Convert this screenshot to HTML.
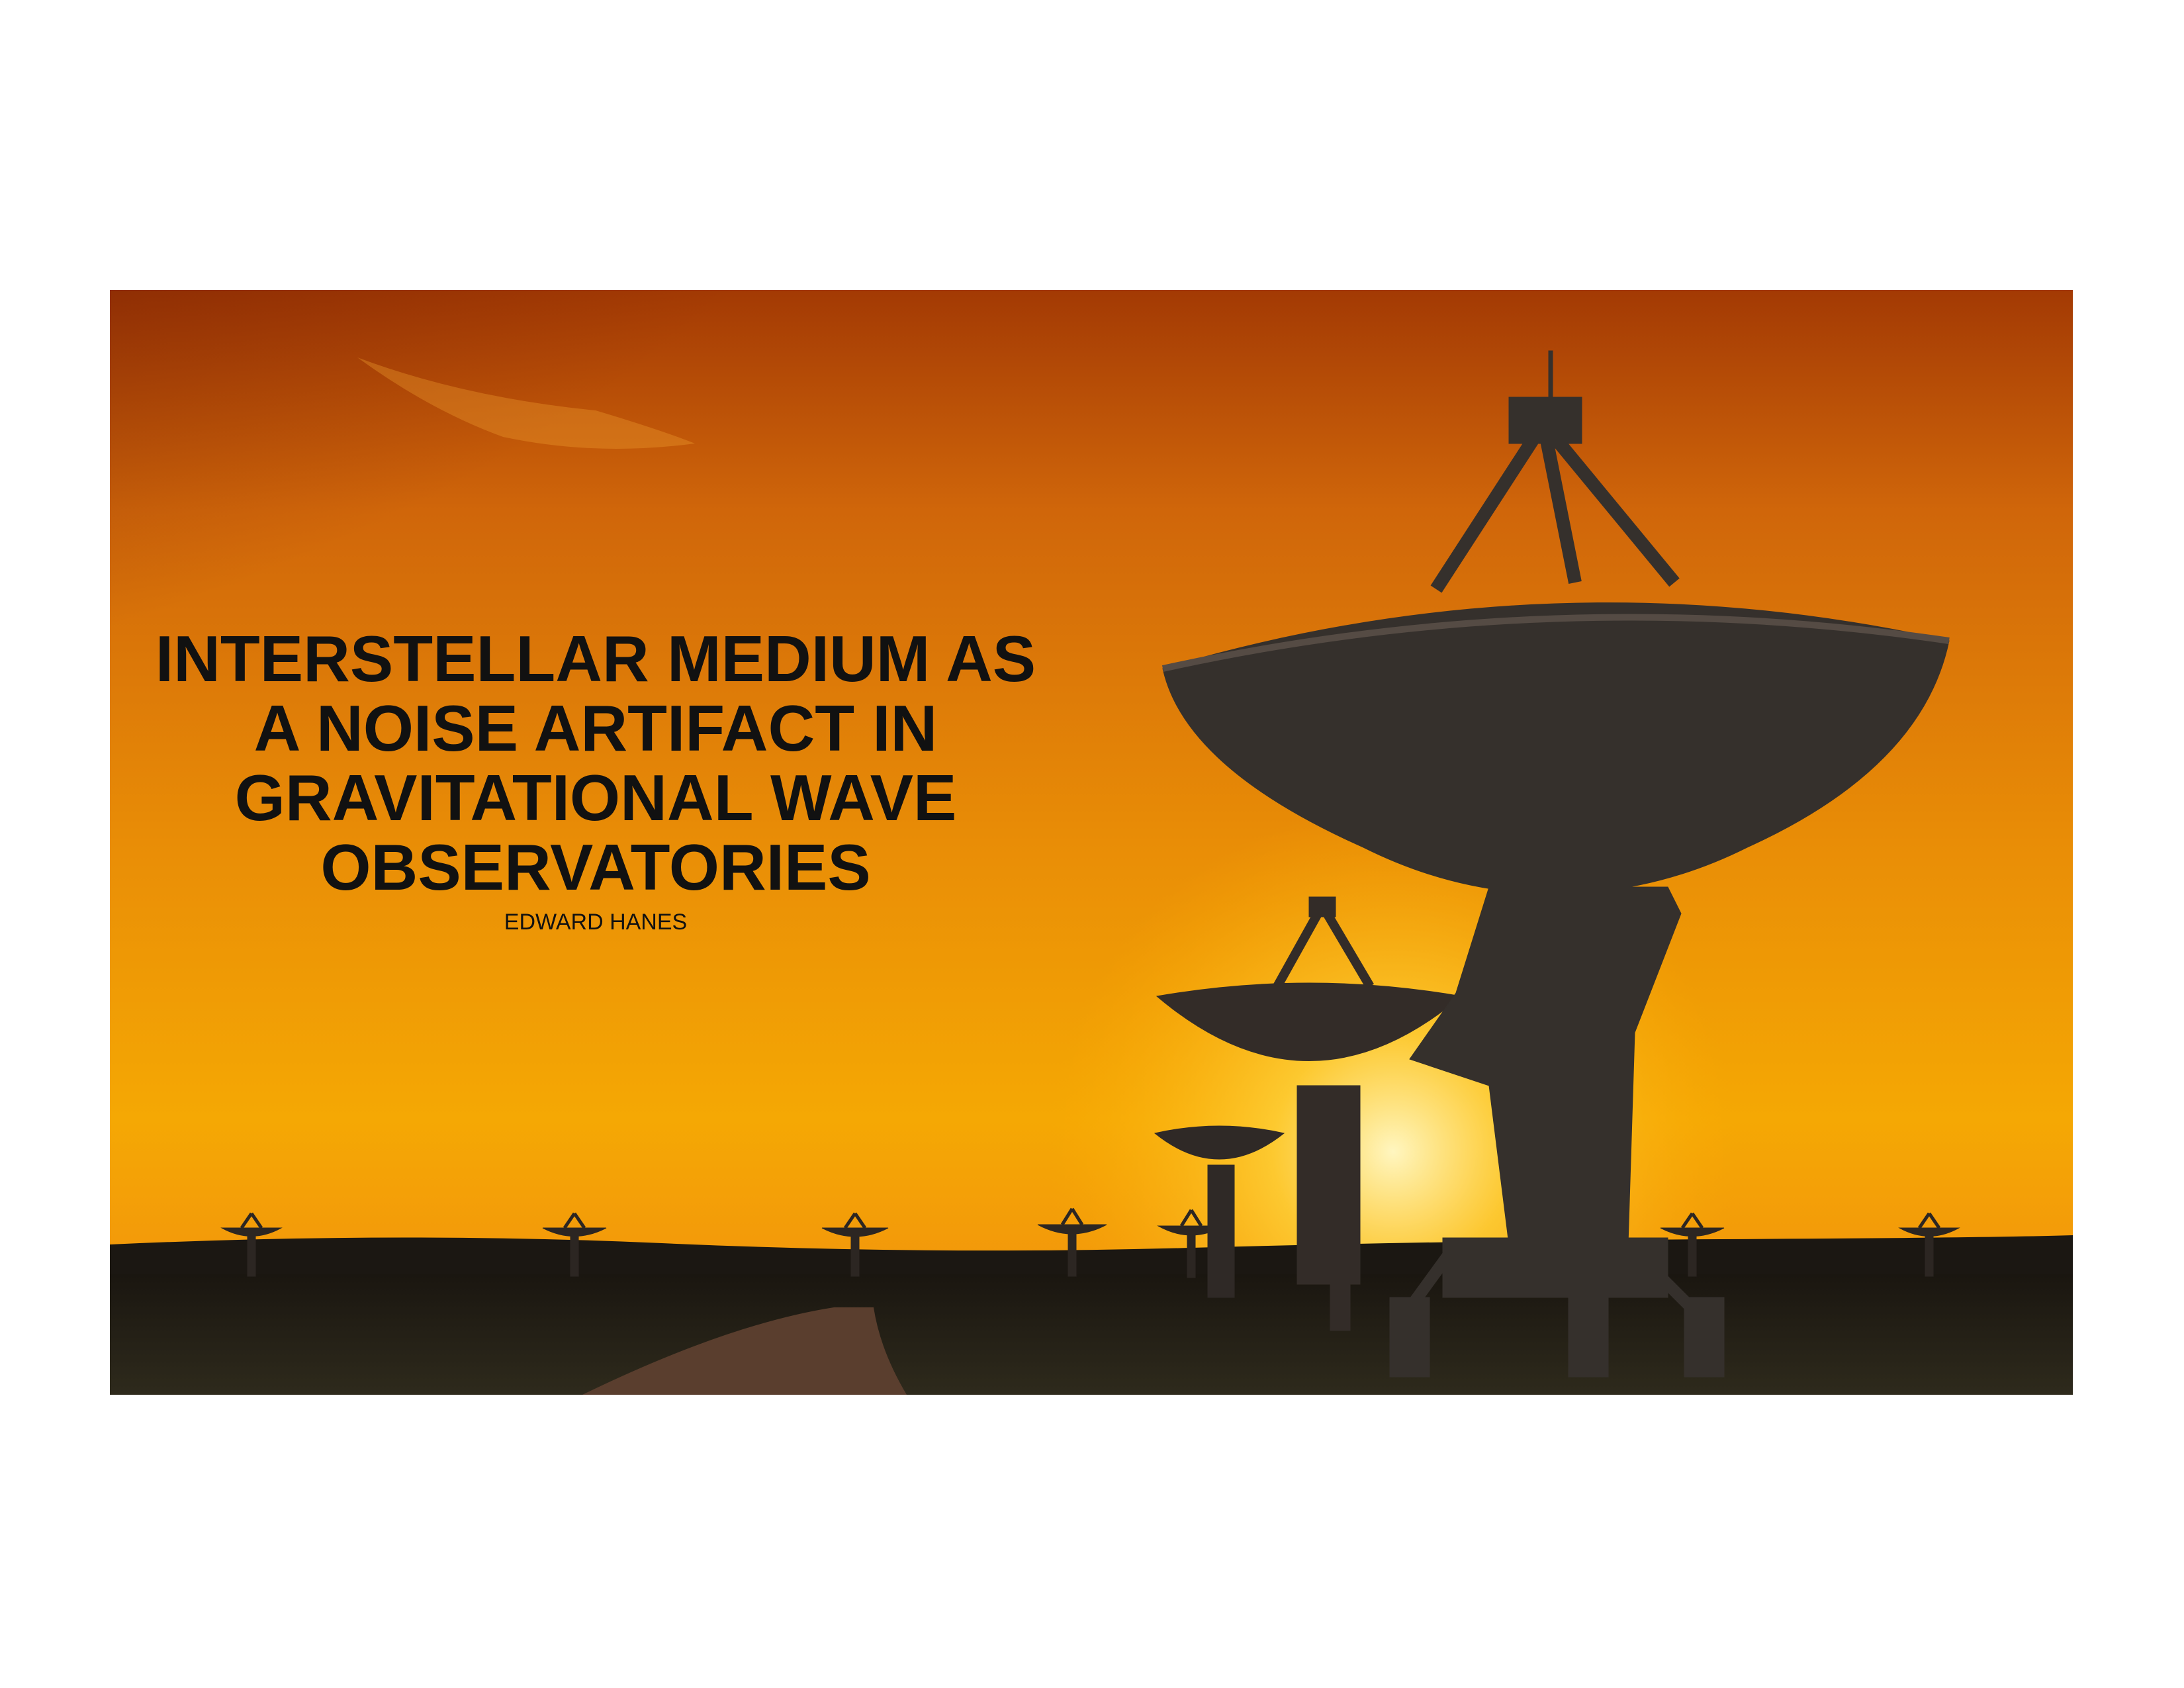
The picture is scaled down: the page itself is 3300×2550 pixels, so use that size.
<!DOCTYPE html>
<html><head><meta charset="utf-8">
<style>
html,body{margin:0;padding:0;background:#fff;}
body{width:3300px;height:2550px;position:relative;overflow:hidden;font-family:"Liberation Sans",sans-serif;}
svg{position:absolute;left:0;top:0;}
.title{position:absolute;left:160px;width:1480px;text-align:center;color:#111;font-weight:bold;font-size:98px;line-height:105px;top:943px;letter-spacing:0px;}
.author{position:absolute;left:160px;width:1480px;text-align:center;color:#111;font-size:34px;top:1374px;}
</style></head>
<body>
<svg width="3300" height="2550" viewBox="0 0 3300 2550">
<defs>
<linearGradient id="sky" x1="0" y1="0" x2="0" y2="1">
<stop offset="0" stop-color="#a33a04"/>
<stop offset="0.2" stop-color="#d0660a"/>
<stop offset="0.5" stop-color="#e98d06"/>
<stop offset="0.75" stop-color="#f5a804"/>
<stop offset="1" stop-color="#f08a10"/>
</linearGradient>
<radialGradient id="tl" cx="0" cy="0" r="1">
<stop offset="0" stop-color="#5a0e04" stop-opacity="0.9"/>
<stop offset="1" stop-color="#5a0e04" stop-opacity="0"/>
</radialGradient>
<radialGradient id="sun" cx="2105" cy="1740" r="520" gradientUnits="userSpaceOnUse">
<stop offset="0" stop-color="#fff6c0"/>
<stop offset="0.35" stop-color="#ffd23a" stop-opacity="0.8"/>
<stop offset="1" stop-color="#ffb000" stop-opacity="0"/>
</radialGradient>
<linearGradient id="ground" x1="0" y1="0" x2="0" y2="1">
<stop offset="0" stop-color="#1a1610"/>
<stop offset="1" stop-color="#2e2a1c"/>
</linearGradient>
<clipPath id="panel"><rect x="166" y="438" width="2966" height="1669"/></clipPath>
</defs>
<g clip-path="url(#panel)">
<rect x="166" y="438" width="2966" height="1669" fill="url(#sky)"/>
<ellipse cx="166" cy="438" rx="1300" ry="700" fill="url(#tl)"/>
<path d="M540 540 Q700 600 900 620 Q1000 650 1050 670 Q900 690 760 660 Q650 620 540 540Z" fill="#f2a030" opacity="0.35"/>
<rect x="166" y="438" width="2966" height="1669" fill="url(#sun)"/>
<path d="M166 1880 Q600 1860 1000 1878 T1800 1885 T2600 1872 T3132 1866 L3132 2107 L166 2107Z" fill="#1b1712"/>
<rect x="166" y="1925" width="2966" height="182" fill="url(#ground)"/>
<path d="M880 2107 Q1100 2000 1260 1975 L1320 1975 Q1330 2040 1370 2107Z" fill="#5a3e2e"/>
<g fill="#2c2622" stroke="#2c2622">
<g transform="translate(380,1855)"><path d="M-45 0 Q0 25 45 0Z"/><rect x="-6" y="8" width="12" height="65"/><path d="M0 -22 L-15 0 M0 -22 L15 0" stroke-width="5"/></g>
<g transform="translate(868,1855)"><path d="M-48 0 Q0 25 48 0Z"/><rect x="-6" y="8" width="12" height="65"/><path d="M0 -22 L-15 0 M0 -22 L15 0" stroke-width="5"/></g>
<g transform="translate(1292,1855)"><path d="M-50 0 Q0 26 50 0Z"/><rect x="-6" y="8" width="12" height="65"/><path d="M0 -22 L-15 0 M0 -22 L15 0" stroke-width="5"/></g>
<g transform="translate(1620,1850)"><path d="M-52 0 Q0 28 52 0Z"/><rect x="-6" y="8" width="12" height="70"/><path d="M0 -24 L-15 0 M0 -24 L15 0" stroke-width="5"/></g>
<g transform="translate(1800,1852)"><path d="M-50 0 Q0 28 50 0Z"/><rect x="-6" y="8" width="12" height="70"/><path d="M0 -24 L-15 0 M0 -24 L15 0" stroke-width="5"/></g>
<g transform="translate(2557,1855)"><path d="M-48 0 Q0 25 48 0Z"/><rect x="-6" y="8" width="12" height="65"/><path d="M0 -22 L-15 0 M0 -22 L15 0" stroke-width="5"/></g>
<g transform="translate(2915,1855)"><path d="M-45 0 Q0 25 45 0Z"/><rect x="-6" y="8" width="12" height="65"/><path d="M0 -22 L-15 0 M0 -22 L15 0" stroke-width="5"/></g>
</g>
<g fill="#2f2926" stroke="#2f2926">
<path d="M1745 1712 Q1842 1790 1940 1712 Q1842 1690 1745 1712Z"/>
<rect x="1825" y="1760" width="40" height="200"/>
</g>
<g fill="#332c28" stroke="#332c28">
<path d="M1748 1505 Q1978 1700 2208 1505 Q1978 1465 1748 1505Z"/>
<path d="M1998 1368 L1930 1490 M1998 1368 L2070 1490" stroke-width="14" fill="none"/>
<rect x="1978" y="1355" width="40" height="30"/>
<rect x="1960" y="1640" width="95" height="300"/>
<rect x="2010" y="1940" width="30" height="70"/>
</g>
<g fill="#35302c" stroke="#35302c">
<path d="M1757 1010 Q1790 1160 2060 1280 Q2200 1350 2347 1350 Q2500 1350 2640 1280 Q2905 1160 2945 968 Q2347 835 1757 1010Z"/>
<path d="M1757 1010 Q2347 880 2945 968" stroke="#554b44" stroke-width="10" fill="none"/>
<path d="M2332 640 L2170 890 M2332 640 L2530 880 M2332 640 L2380 880" stroke-width="20" fill="none"/>
<rect x="2280" y="600" width="110" height="70"/>
<rect x="2340" y="530" width="6" height="80"/>
<path d="M2250 1340 L2200 1500 L2130 1600 L2250 1640 L2280 1880 L2460 1880 L2470 1560 L2540 1380 L2520 1340Z"/>
<path d="M2200 1880 L2120 1990 M2460 1880 L2570 1990" stroke-width="18" fill="none"/>
<rect x="2180" y="1870" width="340" height="90"/>
<rect x="2100" y="1960" width="60" height="120"/>
<rect x="2370" y="1960" width="60" height="120"/>
<rect x="2545" y="1960" width="60" height="120"/>
</g>
</g>
</svg>
<div class="title">INTERSTELLAR MEDIUM AS<br>A NOISE ARTIFACT IN<br>GRAVITATIONAL WAVE<br>OBSERVATORIES</div>
<div class="author">EDWARD HANES</div>
</body></html>
